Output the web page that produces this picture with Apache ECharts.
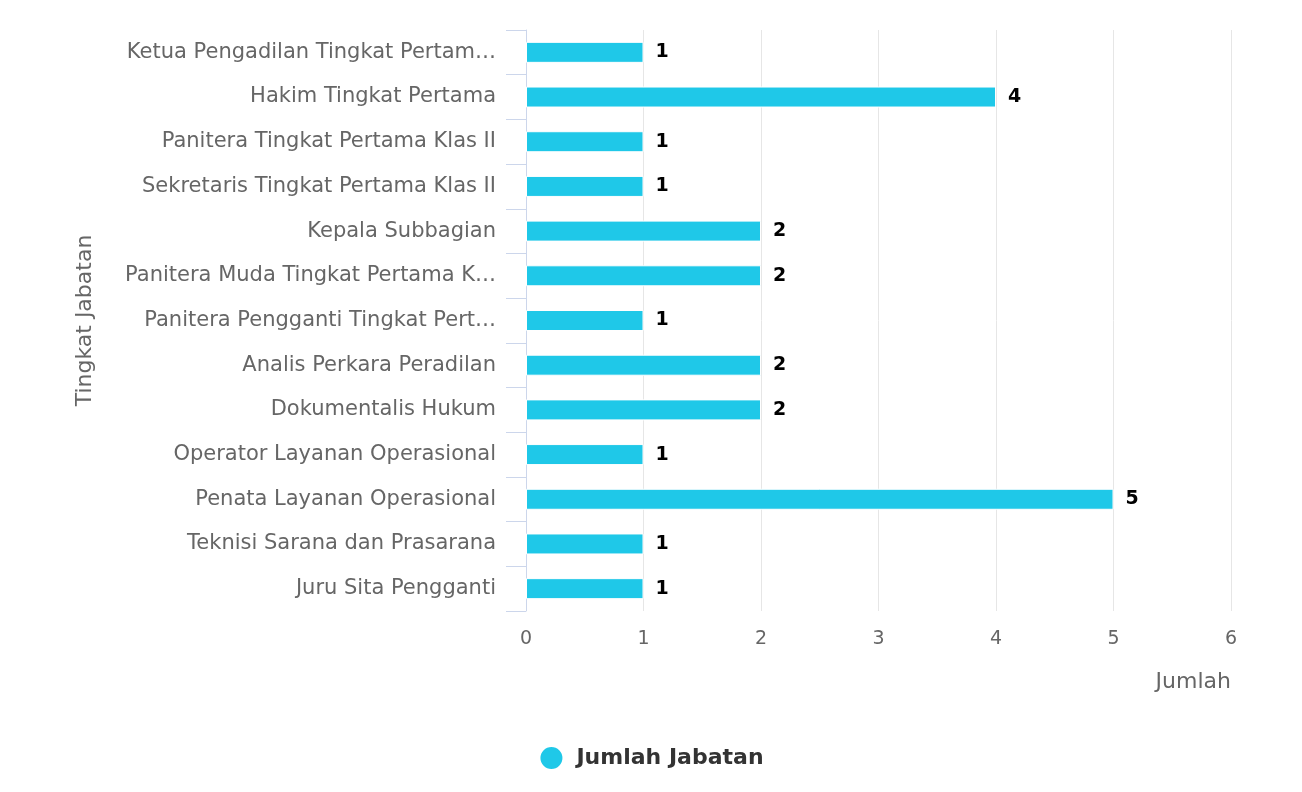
<!DOCTYPE html>
<html>
<head>
<meta charset="utf-8">
<script src="https://cdn.jsdelivr.net/npm/echarts@6/dist/echarts.min.js"></script>
<style>
  html, body { margin: 0; padding: 0; background: #fff; }
  #chart { width: 1302px; height: 792px; }
</style>
</head>
<body>
<div id="chart"></div>
<script>
// data
const categories = [
  'Ketua Pengadilan Tingkat Pertama Klas II',
  'Hakim Tingkat Pertama',
  'Panitera Tingkat Pertama Klas II',
  'Sekretaris Tingkat Pertama Klas II',
  'Kepala Subbagian',
  'Panitera Muda Tingkat Pertama Klas II',
  'Panitera Pengganti Tingkat Pertama Klas II',
  'Analis Perkara Peradilan',
  'Dokumentalis Hukum',
  'Operator Layanan Operasional',
  'Penata Layanan Operasional',
  'Teknisi Sarana dan Prasarana',
  'Juru Sita Pengganti'
]
const jumlahJabatan = [1, 4, 1, 1, 2, 2, 1, 2, 2, 1, 5, 1, 1]
const xTicks = [0, 1, 2, 3, 4, 5, 6]

const font = '"DejaVu Sans", "Noto Sans", sans-serif'
const chart = echarts.init(document.getElementById('chart'))

chart.setOption({
  animation: false,
  textStyle: { fontFamily: font },
  grid: { left: 526, right: 71, top: 30, bottom: 181 },
  legend: {
    bottom: 16,
    left: 'center',
    icon: 'circle',
    itemWidth: 24,
    itemHeight: 24,
    textStyle: {
      fontSize: 22, fontWeight: 'bold', color: '#333', fontFamily: font,
      padding: [0, 0, 0, 8]
    }
  },
  xAxis: {
    type: 'value',
    min: xTicks[0],
    max: xTicks[xTicks.length - 1],
    interval: 1,
    name: 'Jumlah',
    nameLocation: 'end',
    nameGap: 0,
    nameTextStyle: {
      fontSize: 22, color: '#666', align: 'right', verticalAlign: 'top',
      padding: [60, 0, 0, 0], fontFamily: font
    },
    axisLine: { show: false },
    axisTick: { show: false },
    axisLabel: { fontSize: 19, color: '#666', margin: 19, fontFamily: font },
    splitLine: { show: true, lineStyle: { color: '#e6e6e6', width: 1 } }
  },
  yAxis: {
    type: 'category',
    data: categories,
    inverse: true,
    name: 'Tingkat Jabatan',
    nameLocation: 'middle',
    nameGap: 430,
    nameTextStyle: { fontSize: 22, color: '#666', fontFamily: font },
    axisLine: { show: true, lineStyle: { color: '#ccd6eb', width: 1 } },
    axisTick: { show: true, length: 20, lineStyle: { color: '#ccd6eb', width: 1 } },
    axisLabel: {
      fontSize: 21, color: '#666', margin: 30, fontFamily: font,
      width: 375, overflow: 'truncate', ellipsis: '…'
    }
  },
  series: [{
    name: 'Jumlah Jabatan',
    type: 'bar',
    data: jumlahJabatan,
    barWidth: 21,
    itemStyle: { color: '#1fc8e8', borderColor: '#fff', borderWidth: 1 },
    label: {
      show: true,
      position: 'right',
      distance: 12,
      fontSize: 19,
      fontWeight: 'bold',
      color: '#000',
      fontFamily: font
    }
  }]
})
</script>
</body>
</html>
